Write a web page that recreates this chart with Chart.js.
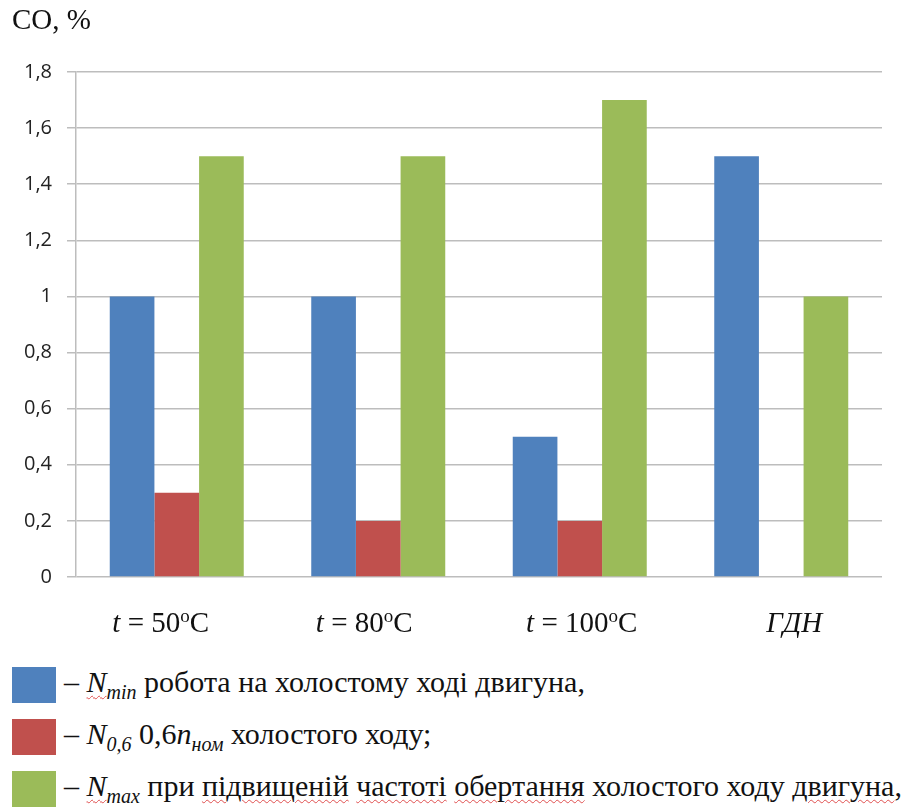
<!DOCTYPE html>
<html>
<head>
<meta charset="utf-8">
<script src="https://cdn.jsdelivr.net/npm/chart.js@4"></script>
<style>
  body { margin: 0; background: #fff; }
  #wrap { position: relative; width: 919px; height: 807px; overflow: hidden; }
  #chartBox { position: absolute; left: 0; top: 0; width: 919px; height: 650px; }
  #yTitle { position: absolute; left: 12px; top: 3px; font-family: "Liberation Serif", "Times New Roman", serif; font-size: 29px; color: #111; }
  .leg { position: absolute; left: 12px; font-family: "Liberation Serif", "Times New Roman", serif; font-size: 30px; color: #111; white-space: nowrap; line-height: 36px; }
  .leg .sw { display: inline-block; width: 44px; height: 36px; vertical-align: middle; margin-right: 8px; }
  .leg sub { font-size: 20px; }
  .sq { text-decoration: underline wavy #e05050; text-decoration-thickness: 1px; text-underline-offset: 3px; }
</style>
</head>
<body>
<div id="wrap">
  <div id="chartBox"><canvas id="coChart" width="919" height="650"></canvas></div>
  <div id="yTitle">CO, %</div>
  <div class="leg" style="top:664px"><span class="sw" style="background:#4f81bd"></span>– <i class="sq">N<sub>min</sub></i> робота на холостому ході двигуна,</div>
  <div class="leg" style="top:716px"><span class="sw" style="background:#c0504d"></span>– <i>N<sub>0,6</sub></i> 0,6<i>n<sub>ном</sub></i> холостого ходу;</div>
  <div class="leg" style="top:768px"><span class="sw" style="background:#9bbb59"></span>– <i class="sq">N<sub>max</sub></i> при <span class="sq">підвищеній</span> <span class="sq">частоті</span> <span class="sq">обертання</span> холостого ходу <span class="sq">двигуна</span>,</div>
</div>
<script>
// temperature modes + ГДН
const categories = ["t = 50", "t = 80", "t = 100", "ГДН"];
const nMin = [1, 1, 0.5, 1.5];
const n06 = [0.3, 0.2, 0.2, 0];
const nMax = [1.5, 1.5, 1.7, 1];
const yTicks = [0, 0.2, 0.4, 0.6, 0.8, 1, 1.2, 1.4, 1.6, 1.8];

const labelShift = [-16, -14, 2, 13];

// x labels: italic "t", degree sign as small raised "o"
const xLabels = {
  id: 'xLabels',
  afterDraw(chart) {
    const ctx = chart.ctx;
    const xs = chart.scales.x;
    const y = chart.chartArea.bottom + 55;
    ctx.save();
    ctx.fillStyle = '#111';
    ctx.textBaseline = 'alphabetic';
    categories.forEach((c, i) => {
      const cx = xs.getPixelForTick(i) + labelShift[i];
      let parts;
      if (c.startsWith('t')) {
        parts = [
          ['italic 29px "Liberation Serif"', 't', 0],
          ['29px "Liberation Serif"', c.slice(1), 0],
          ['19px "Liberation Serif"', 'o', -10],
          ['29px "Liberation Serif"', 'C', 0]
        ];
      } else {
        parts = [['italic 29px "Liberation Serif"', c, 0]];
      }
      let w = 0;
      parts.forEach(p => { ctx.font = p[0]; w += ctx.measureText(p[1]).width; });
      let x = cx - w / 2;
      parts.forEach(p => {
        ctx.font = p[0];
        ctx.fillText(p[1], x, y + p[2]);
        x += ctx.measureText(p[1]).width;
      });
    });
    ctx.restore();
  }
};

new Chart(document.getElementById('coChart'), {
  type: 'bar',
  data: {
    labels: categories,
    datasets: [
      { label: 'Nmin', data: nMin, backgroundColor: '#4f81bd' },
      { label: 'N0,6', data: n06, backgroundColor: '#c0504d' },
      { label: 'Nmax', data: nMax, backgroundColor: '#9bbb59' }
    ]
  },
  options: {
    responsive: false,
    animation: false,
    layout: { padding: { top: 72, right: 37, left: 0, bottom: 0 } },
    datasets: { bar: { barPercentage: 1, categoryPercentage: 0.665 } },
    plugins: { legend: { display: false }, tooltip: { enabled: false } },
    scales: {
      x: {
        grid: { display: false },
        border: { display: false },
        ticks: { display: false },
        afterFit: (s) => { s.height = 73; }
      },
      y: {
        min: 0,
        max: 1.8,
        afterBuildTicks: (s) => { s.ticks = yTicks.map(v => ({ value: v })); },
        afterFit: (s) => { s.width = 76; },
        grid: { color: '#bdbdbd', lineWidth: 1.5, tickLength: 9 },
        border: { display: true, color: '#bdbdbd', width: 1.5 },
        ticks: {
          padding: 15,
          color: '#222',
          font: { family: 'Open Sans', size: 20 },
          callback: (v) => String(v).replace('.', ',')
        }
      }
    }
  },
  plugins: [xLabels]
});
</script>
</body>
</html>
